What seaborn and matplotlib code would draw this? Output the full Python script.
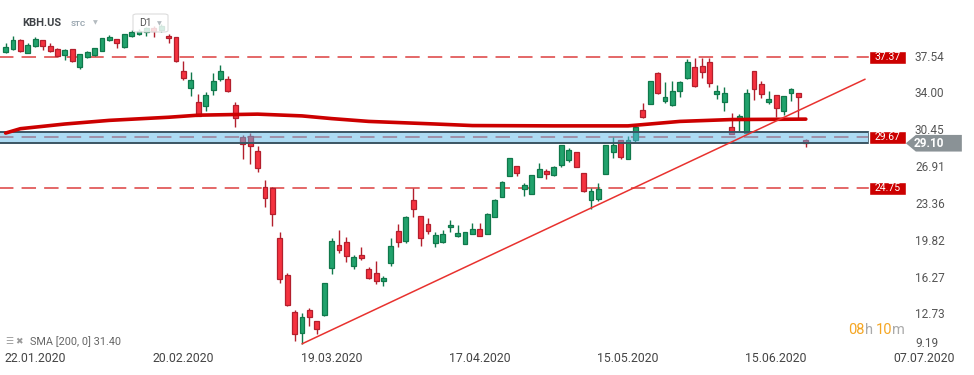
import pandas as pd
import matplotlib.pyplot as plt
from matplotlib.patches import Rectangle, Polygon, FancyBboxPatch
import seaborn as sns

W, H = 974, 375

# daily candles, index 0 = 22.01.2020
bar_idx = list(range(-4, 105))
open_ = [37.92, 38.14, 39.04, 37.82, 38.43, 39.01, 38.43, 38.17, 37.56, 38.14,
         36.47, 37.37, 37.56, 38.01, 39.07, 39.10, 38.33, 39.45, 39.62, 39.80,
         40.20, 39.95, 39.42, 39.29, 36.06, 34.45, 33.04, 32.72, 34.26, 35.32,
         35.29, 32.79, 29.68, 29.81, 28.36, 24.87, 24.78, 19.97, 16.44, 12.85,
         10.89, 13.04, 11.98, 12.59, 17.14, 19.29, 19.58, 17.27, 18.33, 16.98,
         16.60, 15.89, 17.62, 20.63, 19.67, 23.61, 22.08, 21.31, 19.55, 19.58,
         21.02, 20.22, 19.45, 20.41, 20.83, 20.41, 22.05, 23.97, 25.99, 26.89,
         24.74, 24.26, 25.89, 26.41, 26.08, 27.00, 27.53, 28.23, 26.21, 23.68,
         23.74, 26.11, 28.29, 29.38, 27.62, 29.42, 32.27, 32.85, 35.83, 33.20,
         32.78, 34.16, 35.35, 36.40, 36.53, 36.88, 33.81, 33.10, 30.67, 31.40,
         30.06, 36.05, 34.80, 33.10, 33.71, 32.24, 33.90, 33.90, 29.38]
high = [38.72, 39.42, 39.13, 38.78, 39.29, 39.01, 38.72, 38.30, 38.14, 38.14,
        37.66, 37.98, 38.30, 39.26, 39.52, 39.10, 39.58, 39.95, 40.05, 40.30,
        40.40, 40.60, 39.61, 39.29, 37.02, 35.99, 33.85, 34.07, 35.83, 36.63,
        35.58, 33.11, 29.90, 30.13, 28.85, 25.58, 24.87, 20.54, 16.60, 13.07,
        12.75, 13.26, 11.98, 15.63, 19.96, 20.76, 20.06, 18.33, 19.10, 17.17,
        17.78, 16.31, 19.96, 21.34, 22.11, 24.80, 22.08, 21.88, 20.54, 20.73,
        21.73, 21.24, 20.57, 21.44, 21.44, 22.37, 23.74, 25.44, 27.65, 26.89,
        25.28, 26.05, 27.21, 26.63, 26.95, 28.90, 28.62, 28.25, 26.21, 24.77,
        25.25, 28.90, 29.67, 29.38, 29.83, 30.70, 33.01, 35.09, 35.92, 35.00,
        35.09, 35.09, 37.20, 37.30, 37.30, 37.30, 34.71, 34.51, 32.01, 31.92,
        34.32, 36.05, 35.09, 34.13, 33.71, 33.62, 34.45, 33.90, 29.48]
low = [37.82, 38.08, 37.92, 37.82, 38.37, 38.11, 37.85, 37.47, 37.15, 36.95,
       36.22, 37.31, 37.53, 37.98, 38.94, 38.30, 38.30, 39.35, 39.50, 39.45,
       39.30, 39.80, 38.78, 36.92, 35.19, 33.69, 31.76, 32.24, 33.75, 35.13,
       34.07, 30.70, 27.60, 27.15, 26.38, 23.01, 21.09, 15.61, 13.40, 10.12,
       9.80, 11.56, 10.79, 12.49, 16.50, 18.58, 17.65, 17.04, 17.91, 16.05,
       15.51, 15.41, 17.33, 19.16, 19.51, 21.98, 19.26, 20.41, 19.16, 19.48,
       20.60, 20.12, 19.45, 20.38, 20.22, 20.38, 22.01, 23.94, 25.96, 25.99,
       24.06, 24.22, 25.86, 25.70, 25.99, 26.85, 27.33, 26.80, 24.45, 22.75,
       23.58, 26.11, 27.72, 27.62, 27.62, 29.22, 31.56, 32.85, 33.84, 33.01,
       32.69, 33.58, 35.31, 34.54, 35.41, 34.55, 33.39, 32.21, 29.96, 30.28,
       29.96, 33.30, 33.49, 32.91, 31.63, 31.79, 33.20, 31.56, 28.74]
close = [38.33, 39.04, 38.01, 38.56, 39.10, 38.49, 37.95, 37.53, 38.04, 36.99,
         37.66, 37.85, 38.24, 39.20, 39.33, 38.72, 39.58, 39.80, 39.85, 40.15,
         39.90, 40.35, 39.20, 36.99, 35.42, 35.19, 31.76, 33.75, 35.10, 36.06,
         34.17, 31.51, 29.01, 28.88, 26.67, 23.81, 22.34, 16.03, 13.49, 10.73,
         12.36, 12.43, 11.21, 15.63, 19.70, 18.81, 18.23, 18.13, 18.10, 16.15,
         15.89, 16.12, 19.19, 19.58, 21.98, 22.75, 19.96, 20.63, 20.28, 20.38,
         21.24, 20.48, 20.57, 20.83, 20.22, 22.27, 23.62, 25.35, 27.65, 26.28,
         25.06, 26.02, 26.63, 26.18, 26.79, 28.90, 28.46, 26.85, 24.54, 24.48,
         24.67, 28.90, 28.90, 27.81, 29.38, 30.70, 31.66, 35.09, 33.90, 33.52,
         34.13, 34.96, 36.88, 34.64, 35.99, 34.93, 34.13, 33.94, 29.96, 31.72,
         33.90, 34.29, 33.81, 33.33, 32.46, 33.62, 34.32, 33.58, 29.10]

# SMA(200)
sma_idx = [-4, -2, 4, 10, 18, 22, 30, 36, 40, 45, 54, 59, 70, 80, 87, 94, 104]
sma_val = [30.08, 30.50, 30.95, 31.30, 31.60, 31.80, 31.90, 31.73, 31.47,
           31.20, 30.95, 30.80, 30.77, 30.77, 31.20, 31.38, 31.42]
sma_label = "SMA [200, 0] 31.40"

trend_idx = [36, 112]
trend_val = [9.80, 35.26]

levels = [37.37, 29.67, 24.75]
zone_low, zone_high = 29.10, 30.22
last_price = 29.10

price_ticks = [37.54, 34.00, 30.45, 26.91, 23.36, 19.82, 16.27, 12.73, 9.19]
date_pos = [0, 20, 40, 60, 80, 100, 120]
date_labels = ["22.01.2020", "20.02.2020", "19.03.2020", "17.04.2020",
               "15.05.2020", "15.06.2020", "07.07.2020"]

sns.set_theme(style="white")
plt.rcParams["font.family"] = ["Roboto", "DejaVu Sans"]

df = pd.DataFrame({"i": bar_idx, "o": open_, "h": high, "l": low, "c": close})
df["up"] = df["c"] >= df["o"]

fig = plt.figure(figsize=(W / 100, H / 100), dpi=100)
ax = fig.add_axes([0, 1 - 350.4 / H, 1, 350.4 / H])
ax.set_xlim(-4.76, 126.7)
ax.set_ylim(9.17, 42.88)
for s in ax.spines.values():
    s.set_visible(False)

line_end = 112.5
ax.hlines(levels, -6, line_end, colors="#dc4040", linestyles=(0, (8, 4.5)),
          lw=1.3, alpha=0.85, zorder=1)

edge = df["up"].map({True: "#10784b", False: "#b31f2d"})
fill = df["up"].map({True: "#21a26c", False: "#f5323f"})
ax.vlines(df["i"], df["l"], df["h"], colors=edge, lw=1, zorder=2)
body_bottom = df[["o", "c"]].min(axis=1)
body_height = (df["o"] - df["c"]).abs().clip(lower=0.12)
ax.bar(df["i"], body_height, bottom=body_bottom, width=0.66, color=fill,
       edgecolor=edge, linewidth=0.9, zorder=2.5)

# support zone
ax.add_patch(Rectangle((-6, zone_low), line_end + 6, zone_high - zone_low,
                       fc=(0.36, 0.72, 0.91, 0.5), ec="#3b5563", lw=1.4, zorder=3))

sns.lineplot(x=sma_idx, y=sma_val, color="#cc0000", lw=2.6, ax=ax, zorder=4)
ax.plot(trend_idx, trend_val, color="#e8322f", lw=1.1, zorder=5)

# level tags
for lv in levels:
    ax.add_patch(Rectangle((line_end, lv - 0.6), 5.0, 1.2, fc="#cc0000", zorder=6))
    ax.text(line_end + 2.5, lv, f"{lv:.2f}", color="white", fontsize=7.5,
            ha="center", va="center", zorder=7)

ax.add_patch(Polygon([(117.5, last_price), (118.85, last_price + 0.8),
                      (125.06, last_price + 0.8), (125.06, last_price - 0.8),
                      (118.85, last_price - 0.8)], fc="#8a9296", ec="none", zorder=8))
ax.text(120.6, last_price, f"{last_price:.2f}", color="white", fontsize=8.5,
        fontweight="bold", ha="center", va="center", zorder=9)

ax.yaxis.tick_right()
ax.set_yticks(price_ticks)
ax.set_yticklabels([f"{t:.2f}" for t in price_ticks])
ax.tick_params(axis="y", length=0, pad=-42.5, labelsize=8.5, labelcolor="#555555")
ax.get_yticklabels()[-1].set_va("bottom")

ax.set_xticks(date_pos)
ax.set_xticklabels(date_labels)
ax.tick_params(axis="x", length=0, pad=1.5, labelsize=8.8, labelcolor="#444444")
ax.grid(False)

# header
fig.text(22 / W, 1 - 23.5 / H, "KBH.US", fontsize=8, fontweight="bold",
         color="#3f4347", va="center")
fig.text(71 / W, 1 - 24 / H, "STC", fontsize=5.8, fontweight="bold",
         color="#9aa7b0", va="center")
fig.text(93 / W, 1 - 22.5 / H, "▼", fontsize=4.5, color="#b4bbc0", va="center",
         family=["DejaVu Sans"])
fig.add_artist(FancyBboxPatch((133 / W, 1 - 32 / H), 35 / W, 18 / H,
                              boxstyle="round,pad=0,rounding_size=0.004",
                              transform=fig.transFigure, fc=(1, 1, 1, 0.82),
                              ec="#dcdcdc", lw=0.8, zorder=10))
fig.text(139 / W, 1 - 23.5 / H, "D1", fontsize=7.5, color="#555555", va="center",
         zorder=11)
fig.text(157 / W, 1 - 23.5 / H, "▼", fontsize=4.5, color="#b4bbc0", va="center",
         family=["DejaVu Sans"], zorder=11)

# footer
fig.text(5 / W, 1 - 342 / H, "☰", fontsize=6.5, color="#9a9a9a", va="center",
         family=["DejaVu Sans"])
fig.text(15 / W, 1 - 342 / H, "✖", fontsize=6.5, color="#9a9a9a", va="center",
         family=["DejaVu Sans"])
fig.text(30 / W, 1 - 342 / H, sma_label, fontsize=7.8, color="#666666", va="center")

for txt, x, col in [("08", 848, "#f5a623"), ("h", 864.5, "#aaaaaa"),
                    ("10", 876, "#f5a623"), ("m", 892, "#aaaaaa")]:
    fig.text(x / W, 1 - 330 / H, txt, fontsize=10.5, color=col, va="center")

fig.savefig("out.png", dpi=100)
